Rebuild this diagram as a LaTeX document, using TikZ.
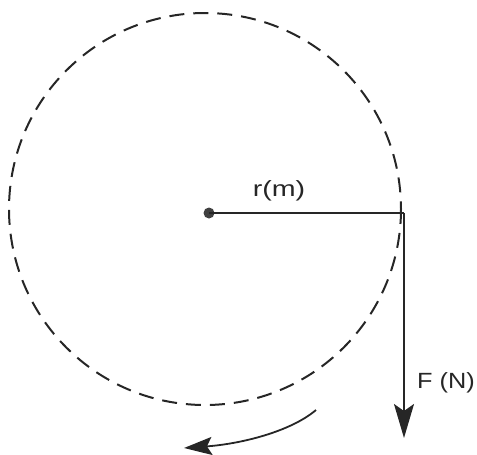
\documentclass[tikz,border=0pt]{standalone}
\usepackage{fontspec}
\setmainfont{Liberation Sans}
\usetikzlibrary{arrows.meta}
\tikzset{
  orbit/.style={draw=black!85, line width=2pt, dash pattern=on 15pt off 9pt},
  radius line/.style={draw=black!85, line width=1.8pt},
  force/.style={draw=black!85, line width=1.8pt, -{Stealth[length=34pt,width=20pt,inset=7pt]}},
  turn/.style={draw=black!85, line width=1.8pt, -{Stealth[length=28pt,width=18pt,inset=5pt]}},
  lbl/.style={font=\fontsize{22}{24}\selectfont, text=black!85, inner sep=0pt}
}
\begin{document}
\begin{tikzpicture}[x=1pt,y=-1pt]
\useasboundingbox (0,0) rectangle (477,455);
\draw[orbit] (205,209) circle[radius=196];
\node[circle, fill=black!75, inner sep=0pt, minimum size=11pt] (c) at (209,213) {};
\coordinate (p) at (404,213);
\coordinate (tip) at (404,438);
\draw[radius line] (c.center) -- (p);
\draw[force] (p) -- (tip);
\coordinate (t1) at (316,410);
\coordinate (t2) at (184,448);
\draw[turn] (t1) .. controls (290,432) and (240,444) .. (t2);
\node[lbl, xscale=1.3] (r) at (279,191) {r(m)};
\node[lbl, xscale=1.15] (f) at (446,383) {F (N)};
\end{tikzpicture}
\end{document}
